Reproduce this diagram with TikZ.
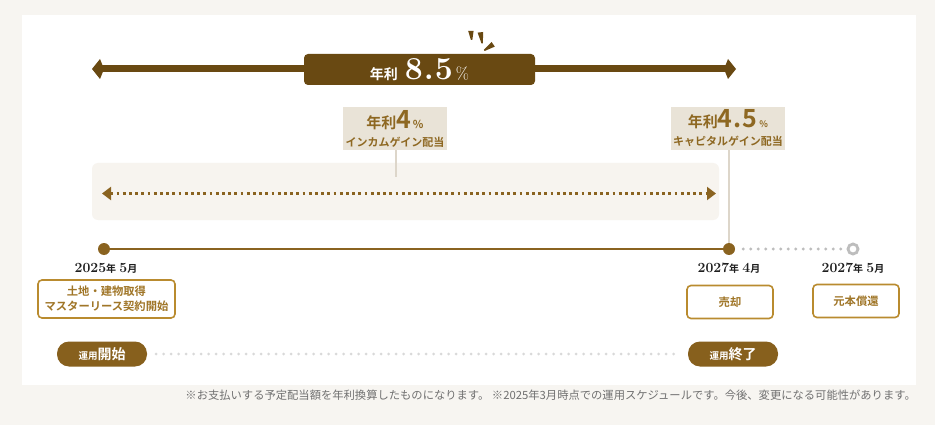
\documentclass[tikz,border=0pt]{standalone}
\usepackage{fontspec}
\newfontfamily\jp{Noto Sans CJK JP}[BoldFont={Noto Sans CJK JP Bold}]
\usetikzlibrary{arrows.meta}
\definecolor{bgc}{HTML}{F7F5F1}
\definecolor{dbrown}{HTML}{694912}
\definecolor{gbrown}{HTML}{8A6320}
\definecolor{boxfill}{HTML}{E9E3D7}
\definecolor{panelc}{HTML}{F7F4EF}
\definecolor{goldb}{HTML}{B98B2F}
\definecolor{goldt}{HTML}{A07628}
\definecolor{rtext}{HTML}{8E6822}
\definecolor{grayd}{HTML}{BDBDBD}
\definecolor{grayl}{HTML}{D9D9D9}
\definecolor{pillc}{HTML}{87601D}
\definecolor{connc}{HTML}{DDD6CA}
\definecolor{notec}{HTML}{707070}
\newcommand{\fs}[1]{\fontsize{#1}{#1}\selectfont}
\tikzset{
  toparrow/.style={dbrown, line width=7pt, {Kite[length=12pt,width=20pt,inset=4pt]}-{Kite[length=12pt,width=20pt,inset=4pt]}},
  topbox/.style={fill=dbrown, rounded corners=4pt, minimum width=231pt, minimum height=31pt, inner sep=0pt, text=white},
  spark/.style={fill=dbrown},
  ratebox/.style={fill=boxfill, minimum height=43pt, inner sep=0pt, text=rtext, align=center, font=\jp\bfseries\fontsize{11}{13}\selectfont},
  panelbox/.style={fill=panelc, rounded corners=6pt, minimum width=627pt, minimum height=57pt, inner sep=0pt},
  dotarr/.style={gbrown, line width=2.1pt, dash pattern=on 2.8pt off 3.4pt, {Triangle[length=9pt,width=13pt]}-{Triangle[length=9pt,width=13pt]}},
  conn/.style={connc, line width=1.4pt},
  fdot/.style={circle, fill=gbrown, minimum size=12pt, inner sep=0pt},
  hdot/.style={circle, draw=grayd, line width=2.8pt, fill=white, minimum size=10pt, inner sep=0pt},
  tline/.style={gbrown, line width=2.6pt},
  gdots/.style={grayd, line width=3.4pt, line cap=round, dash pattern=on 0pt off 7.5pt},
  ldots/.style={grayl, line width=3pt, line cap=round, dash pattern=on 0pt off 7.5pt},
  datel/.style={text=black!88, inner sep=0pt},
  evbox/.style={draw=goldb, line width=1.6pt, rounded corners=4pt, fill=white, text=goldt, align=center, inner sep=0pt, font=\jp\bfseries\fontsize{11.3}{15}\selectfont},
  pill/.style={fill=pillc, rounded corners=12pt, minimum height=25pt, minimum width=90pt, inner sep=0pt, text=white},
}
\begin{document}
\begin{tikzpicture}[x=1pt,y=-1pt]
\useasboundingbox (0,0) rectangle (935,425);
\fill[bgc] (0,0) rectangle (935,425);
\fill[white] (22,15) rectangle (916,385);

% top arrow
\coordinate (tl) at (92,69);
\coordinate (tr) at (736,69);
\draw[toparrow] (tl) -- (tr);
\node[topbox] (rate) at (419.5,69.5) {\jp\bfseries\fs{14}年利\hspace{7pt}{\rmfamily\fs{32}8\kern1pt.\kern1pt5}\hspace{3pt}{\rmfamily\mdseries\fs{17}\%}};
% sparks (tapered wedges)
\fill[spark] (468.2,31) -- (473.6,31) -- (472.3,40) -- (470.9,40) -- cycle;
\fill[spark] (477.6,32.6) -- (483.2,32) -- (482.8,43.5) -- (481.5,43.5) -- cycle;
\fill[spark] (491.6,42) -- (494.8,46.6) -- (484.6,51) -- (483.9,49.8) -- cycle;

% panel
\node[panelbox] (pan) at (405.5,191.5) {};
\coordinate (dl) at (102,193.5);
\coordinate (dr) at (716,193.5);
\draw[dotarr] (dl) -- (dr);

% rate boxes
\node[ratebox, minimum width=104pt] (inc) at (395,128.5) {{\fs{15}年利}{\fs{25}4}\,{\fs{11}\%}\\[5pt]インカムゲイン配当};
\node[ratebox, minimum width=114pt] (cap) at (728,128.5) {{\fs{15}年利}{\fs{25}4\kern1pt.\kern1pt5}\,{\fs{9}\%}\\[5pt]キャピタルゲイン配当};
\coordinate (incend) at (396,177);
\draw[conn] (inc.south -| incend) -- (incend);

% timeline
\node[fdot] (d1) at (104,249) {};
\node[fdot] (d2) at (729,249) {};
\node[hdot] (d3) at (853,249) {};
\draw[conn] (cap.south -| d2) -- (d2.north);
\draw[tline] (d1) -- (d2);
\draw[gdots] (d2.east) ++(8,0) coordinate (g0) (g0) -- (d3.west);

% dates
\node[datel] (t1) at (106,268) {{\bfseries\fs{14}2025}{\jp\bfseries\fs{10}年} {\bfseries\fs{14}5}{\jp\bfseries\fs{10}月}};
\node[datel] (t2) at (729,268) {{\bfseries\fs{14}2027}{\jp\bfseries\fs{10}年} {\bfseries\fs{14}4}{\jp\bfseries\fs{10}月}};
\node[datel] (t3) at (853,268) {{\bfseries\fs{14}2027}{\jp\bfseries\fs{10}年} {\bfseries\fs{14}5}{\jp\bfseries\fs{10}月}};

% event boxes
\node[evbox, minimum width=137pt, minimum height=38pt] (e1) at (106.5,299) {土地・建物取得\\マスターリース契約開始};
\node[evbox, minimum width=86pt, minimum height=33pt] (e2) at (730,302) {売却};
\node[evbox, minimum width=86pt, minimum height=33pt] (e3) at (856,301) {元本償還};

% pills
\node[pill] (p1) at (102,354) {\jp\bfseries{\fs{9.5}運用}{\fs{14}開始}};
\node[pill] (p2) at (733,354) {\jp\bfseries{\fs{9.5}運用}{\fs{14}終了}};
\draw[ldots] ([xshift=9pt]p1.east) -- ([xshift=-8pt]p2.west);

% note
\node[anchor=east, text=notec, inner sep=0pt, font=\jp\fs{11.3}] (note) at (916,395) {※お支払いする予定配当額を年利換算したものになります。 ※2025年3月時点での運用スケジュールです。今後、変更になる可能性があります。};
\end{tikzpicture}
\end{document}
